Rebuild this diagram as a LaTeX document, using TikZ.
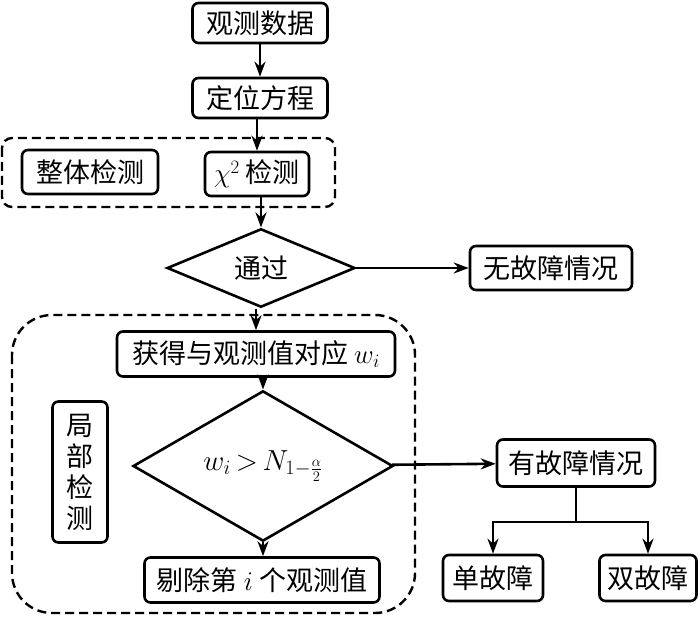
\RequirePackage{fix-cm}
\documentclass[tikz,border=0pt]{standalone}
\usepackage{amsmath}
\usepackage{fontspec}
\usepackage{tikz}
\usetikzlibrary{shapes.geometric,arrows.meta}
\newfontfamily\cjk{Noto Sans CJK SC}

\tikzset{
	box/.style={draw, rounded corners=6pt, line width=2.6pt, inner sep=0pt, font=\cjk\fontsize{27}{32}\selectfont},
	cond/.style={draw, diamond, line width=2.6pt, inner sep=0pt, font=\cjk\fontsize{27}{32}\selectfont},
	group/.style={draw, line width=2.4pt, dash pattern=on 9pt off 5pt},
	link/.style={line width=2.6pt, -{Stealth[length=15pt,width=11pt]}},
}

\begin{document}
\begin{tikzpicture}[x=1pt, y=-1pt]
		\useasboundingbox (0,0) rectangle (700,617) ;
		\draw[group, rounded corners=10pt] (2,138) rectangle (335,207) ;
		\draw[group, rounded corners=40pt] (12,315) rectangle (415,613) ;
		\node[box, minimum width=135pt, minimum height=40pt] (obs) at (260,23) {观测数据} ;
		\node[box, minimum width=135pt, minimum height=40pt] (eq) at (260,98) {定位方程} ;
		\node[box, minimum width=136pt, minimum height=44pt] (whole) at (90,172) {整体检测} ;
		\node[box, minimum width=104pt, minimum height=44pt] (chi) at (257,174) {$\chi^2$ 检测} ;
		\node[cond, minimum width=188pt, minimum height=78pt] (pass) at (261,268) {通过} ;
		\node[box, minimum width=162pt, minimum height=44pt] (nofault) at (551,268) {无故障情况} ;
		\node[box, minimum width=278pt, minimum height=45pt] (getw) at (256,354) {获得与观测值对应 $w_i$} ;
		\node[cond, minimum width=260pt, minimum height=112pt, font=\fontsize{29}{34}\selectfont] (test) at (263,466) {$w_i \mkern-2mu > \mkern-2mu N_{1-\frac{\alpha}{2}}$} ;
		\node[box, minimum width=55pt, minimum height=141pt, align=center, font=\cjk\fontsize{27}{31}\selectfont] (local) at (80,472) {局\\部\\检\\测} ;
		\node[box, minimum width=235pt, minimum height=45pt] (remove) at (262,580) {剔除第 $i$ 个观测值} ;
		\node[box, minimum width=158pt, minimum height=47pt] (fault) at (576,463) {有故障情况} ;
		\node[box, minimum width=100pt, minimum height=46pt] (single) at (493,578) {单故障} ;
		\node[box, minimum width=97pt, minimum height=46pt] (double) at (648,578) {双故障} ;
		\coordinate (split) at (fault.south |- 0,522) ;
		\draw[link] (obs) -- (eq) ;
		\draw[link] (eq.south -| chi.north) -- (chi) ;
		\draw[link] (chi.south -| pass.north) -- (pass) ;
		\draw[link] (pass) -- (nofault) ;
		\draw[link] (pass.south -| getw.north) -- (getw) ;
		\draw[link] (getw.south -| test.north) -- (test) ;
		\draw[link] (test) -- (remove.north -| test.south) ;
		\draw[link] (test) -- (fault) ;
		\draw[line width=2.6pt] (fault) -- (split) ;
		\draw[link] (split) -| (single) ;
		\draw[link] (split) -| (double) ;
	\end{tikzpicture}
\end{document}
